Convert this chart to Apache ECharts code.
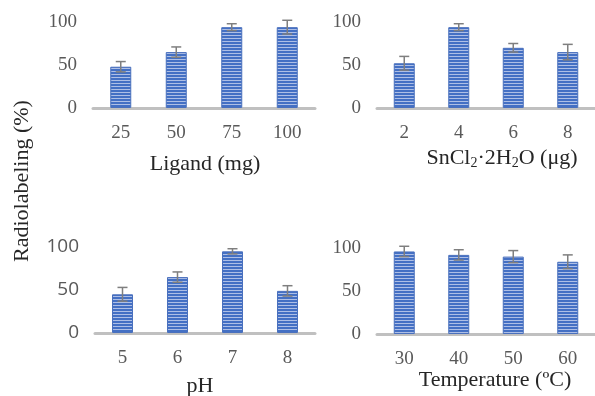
<!DOCTYPE html>
<html>
<head>
    <meta charset="utf-8">
    <title>Radiolabeling</title>
    <style>
        * { margin: 0; padding: 0; }
        html, body { width: 100%; height: 100%; background: #fff; }
        #main { width: 595px; height: 396px; }
    </style>
</head>
<body>
<div id="main"></div>
<script src="https://cdn.jsdelivr.net/npm/echarts@6/dist/echarts.min.js"></script>
<script>
    // data
    const ligandCats = ['25', '50', '75', '100'];
    const ligandVals = [48, 65, 94, 94];
    const ligandErr = [6, 6, 4, 8];

    const snCats = ['2', '4', '6', '8'];
    const snVals = [52, 94, 70, 65];
    const snErr = [8, 4, 5, 9];

    const phCats = ['5', '6', '7', '8'];
    const phVals = [45, 65, 95, 49];
    const phErr = [8, 6, 3, 6];

    const tempCats = ['30', '40', '50', '60'];
    const tempVals = [96, 92, 90, 84];
    const tempErr = [6, 6, 7, 8];

    const yTicks = [0, 50, 100];

    // striped fill for the bars
    const stripe = document.createElement('canvas');
    stripe.width = 4;
    stripe.height = 3;
    const sctx = stripe.getContext('2d');
    sctx.fillStyle = '#4470c4';
    sctx.fillRect(0, 0, 4, 3);
    sctx.fillStyle = '#aebfe6';
    sctx.fillRect(0, 2, 4, 1);

    const SERIF = '"Liberation Serif", "DejaVu Serif", serif';
    const LABEL = '#595959';

    const panels = [
        { cats: ligandCats, vals: ligandVals, err: ligandErr, grid: { left: 93, width: 222, top: 22, height: 86 }, yFont: SERIF },
        { cats: snCats, vals: snVals, err: snErr, grid: { left: 377, width: 222, top: 22, height: 86 }, yFont: SERIF },
        { cats: phCats, vals: phVals, err: phErr, grid: { left: 95, width: 220, top: 247, height: 86 }, yFont: '"Open Sans", sans-serif' },
        { cats: tempCats, vals: tempVals, err: tempErr, grid: { left: 377, width: 222, top: 248, height: 86 }, yFont: SERIF }
    ];

    const grid = [], xAxis = [], yAxis = [], series = [];
    panels.forEach((p, i) => {
        grid.push(p.grid);
        xAxis.push({
            type: 'category', gridIndex: i, data: p.cats,
            axisLine: { lineStyle: { color: '#c0c0c0', width: 3 } },
            axisTick: { show: false },
            axisLabel: { color: LABEL, fontFamily: SERIF, fontSize: 19, margin: 16 }
        });
        yAxis.push({
            type: 'value', gridIndex: i, min: yTicks[0], max: yTicks[2], interval: 50,
            axisLine: { show: false }, axisTick: { show: false }, splitLine: { show: false },
            axisLabel: { color: LABEL, fontFamily: p.yFont, fontSize: 19, margin: 16 }
        });
        series.push({
            type: 'bar', xAxisIndex: i, yAxisIndex: i, barWidth: 21,
            data: p.vals,
            itemStyle: { color: { image: stripe, repeat: 'repeat' }, borderColor: '#4a70bd', borderWidth: 1 }
        });
        // error bars (both directions, with caps)
        series.push({
            type: 'custom', xAxisIndex: i, yAxisIndex: i, z: 5,
            data: p.vals.map((v, k) => [k, v, p.err[k]]),
            renderItem: function (params, api) {
                const x = api.value(0), v = api.value(1), e = api.value(2);
                const hi = api.coord([x, v + e]);
                const lo = api.coord([x, v - e]);
                const w = 5;
                const st = { stroke: '#7f7f7f', lineWidth: 1.5 };
                return {
                    type: 'group',
                    children: [
                        { type: 'line', shape: { x1: hi[0], y1: hi[1], x2: lo[0], y2: lo[1] }, style: st },
                        { type: 'line', shape: { x1: hi[0] - w, y1: hi[1], x2: hi[0] + w, y2: hi[1] }, style: st },
                        { type: 'line', shape: { x1: lo[0] - w, y1: lo[1], x2: lo[0] + w, y2: lo[1] }, style: st }
                    ]
                };
            }
        });
    });

    const nameStyle = { fill: '#262626', font: '22px ' + SERIF, align: 'center', verticalAlign: 'middle' };

    const chart = echarts.init(document.getElementById('main'), null, { renderer: 'canvas' });
    chart.setOption({
        animation: false,
        grid: grid,
        xAxis: xAxis,
        yAxis: yAxis,
        series: series,
        graphic: [
            { type: 'text', x: 205, y: 164, style: Object.assign({ text: 'Ligand (mg)' }, nameStyle) },
            {
                type: 'text', x: 502, y: 158,
                style: Object.assign({}, nameStyle, {
                    text: 'SnCl{s|2}·2H{s|2}O (μg)',
                    rich: { s: { fontSize: 14, fontFamily: SERIF, fill: '#262626', padding: [10, 0, 0, 0] } }
                })
            },
            { type: 'text', x: 200, y: 386, style: Object.assign({ text: 'pH' }, nameStyle) },
            { type: 'text', x: 495, y: 380, style: Object.assign({ text: 'Temperature (ºC)' }, nameStyle) },
            { type: 'text', x: 22, y: 181, rotation: Math.PI / 2, style: Object.assign({ text: 'Radiolabeling (%)' }, nameStyle) }
        ]
    });
</script>
</body>
</html>
